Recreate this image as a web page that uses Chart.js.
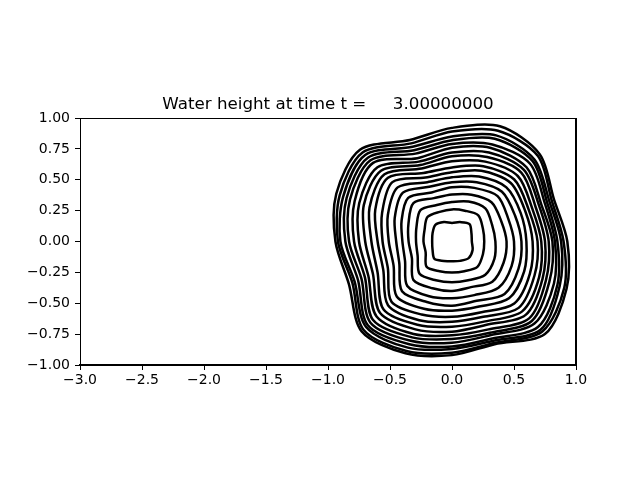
<!DOCTYPE html>
<html><head><meta charset="utf-8">
<script src="https://cdn.jsdelivr.net/npm/chart.js@4/dist/chart.umd.min.js"></script>
<style>html,body{margin:0;padding:0;background:#fff}</style>
</head><body>
<canvas id="c" width="640" height="480"></canvas>
<script>
const titleText = 'Water height at time t =     3.00000000';
const xTickValues = [-3, -2.5, -2, -1.5, -1, -0.5, 0, 0.5, 1];
const xTickLabels = ['\u22123.0','\u22122.5','\u22122.0','\u22121.5','\u22121.0','\u22120.5','0.0','0.5','1.0'];
const yTickValues = [-1, -0.75, -0.5, -0.25, 0, 0.25, 0.5, 0.75, 1];
const yTickLabels = ['\u22121.00','\u22120.75','\u22120.50','\u22120.25','0.00','0.25','0.50','0.75','1.00'];

// contour centre (data units) and ray directions (degrees)
const centerX = 0.0, centerY = 0.0;
const rayAngles = [0, 22.5, 45, 67.5, 90, 112.5, 135, 157.5, 180, 202.5, 225, 247.5, 270, 292.5, 315, 337.5];
// radius (data units) at which each of the 18 contour levels crosses a ray, innermost -> outermost
const ray000 = [.16,.26,.35,.44,.50,.56,.60,.65,.69,.72,.75,.78,.81,.83,.85,.88,.90,.93];
const ray022 = [.17,.27,.35,.43,.49,.55,.60,.64,.67,.70,.73,.76,.78,.81,.83,.85,.87,.89];
const ray045 = [.20,.30,.38,.45,.52,.57,.62,.67,.71,.75,.79,.82,.85,.89,.92,.94,.98,1.00];
const ray067 = [.17,.27,.35,.41,.47,.52,.57,.62,.66,.70,.74,.78,.82,.85,.90,.93,.97,1.01];
const ray090 = [.15,.26,.32,.38,.44,.48,.52,.56,.60,.65,.69,.72,.76,.79,.82,.85,.89,.92];
const ray112 = [.17,.26,.32,.38,.43,.48,.52,.56,.60,.64,.67,.70,.73,.77,.80,.83,.86,.89];
const ray135 = [.19,.28,.36,.44,.50,.56,.62,.68,.73,.77,.81,.85,.90,.93,.96,.99,1.02,1.05];
const ray157 = [.17,.24,.31,.38,.44,.50,.56,.61,.67,.72,.77,.81,.85,.89,.92,.95,.98,1.01];
const ray180 = [.16,.23,.29,.35,.40,.45,.51,.56,.60,.65,.70,.75,.79,.83,.86,.90,.92,.94];
const ray202 = [.17,.23,.30,.35,.41,.46,.51,.56,.60,.65,.69,.73,.76,.79,.82,.85,.87,.90];
const ray225 = [.20,.29,.37,.44,.51,.57,.63,.69,.73,.78,.82,.86,.90,.93,.96,.98,1.01,1.03];
const ray247 = [.17,.26,.34,.41,.48,.53,.59,.64,.69,.73,.77,.81,.84,.87,.90,.93,.96,.98];
const ray270 = [.16,.25,.33,.40,.46,.52,.56,.61,.65,.69,.73,.76,.79,.82,.85,.87,.90,.92];
const ray292 = [.17,.26,.34,.40,.47,.52,.57,.62,.66,.70,.73,.77,.80,.82,.85,.87,.89,.90];
const ray315 = [.19,.29,.38,.46,.53,.60,.65,.71,.76,.80,.84,.88,.91,.94,.98,1.01,1.03,1.06];
const ray337 = [.18,.27,.37,.45,.52,.58,.63,.68,.72,.76,.79,.82,.85,.89,.92,.94,.98,1.00];

const rays = [ray000, ray022, ray045, ray067, ray090, ray112, ray135, ray157,
              ray180, ray202, ray225, ray247, ray270, ray292, ray315, ray337];

const datasets = [];
const nLevels = ray000.length;
const nRays = rays.length;
for (let k = 0; k < nLevels; k++) {
  const pts = rays.map((r, i) => {
    const a = rayAngles[i] * Math.PI / 180;
    return { x: centerX + r[k] * Math.cos(a), y: centerY + r[k] * Math.sin(a) };
  });
  // wrap so that every visible segment has proper neighbours for the spline
  const data = [pts[nRays - 1], ...pts, pts[0], pts[1]];
  datasets.push({
    data,
    showLine: true,
    borderColor: '#000',
    borderWidth: 2.5,
    pointRadius: 0,
    pointHoverRadius: 0,
    tension: 0.3,
    fill: false,
    segment: {
      borderColor: ctx => (ctx.p0DataIndex === 0 || ctx.p0DataIndex === nRays + 1) ? 'rgba(0,0,0,0)' : '#000'
    }
  });
}

const frameAndTitle = {
  id: 'frameAndTitle',
  afterDraw(chart) {
    const { ctx, chartArea: a } = chart;
    ctx.save();
    ctx.strokeStyle = '#000';
    ctx.lineWidth = 1;
    ctx.beginPath();
    ctx.moveTo(a.left, a.top + 0.5); ctx.lineTo(a.right, a.top + 0.5);
    ctx.stroke();
    ctx.lineWidth = 2;
    ctx.beginPath();
    ctx.moveTo(a.right, a.top); ctx.lineTo(a.right, a.bottom + 1);
    ctx.stroke();
    ctx.fillStyle = '#000';
    ctx.font = '16.7px "DejaVu Sans"';
    ctx.textAlign = 'center';
    ctx.textBaseline = 'alphabetic';
    ctx.fillText(titleText, (a.left + a.right) / 2, a.top - 9);
    ctx.restore();
  }
};

const tickFont = { family: 'DejaVu Sans', size: 14 };
new Chart(document.getElementById('c'), {
  type: 'scatter',
  data: { datasets },
  plugins: [frameAndTitle],
  options: {
    responsive: false,
    animation: false,
    devicePixelRatio: 1,
    layout: { padding: { top: 118, right: 64, left: 0, bottom: 0 } },
    plugins: {
      legend: { display: false },
      tooltip: { enabled: false },
      title: { display: false }
    },
    scales: {
      x: {
        type: 'linear', min: -3, max: 1,
        afterBuildTicks: s => { s.ticks = xTickValues.map(v => ({ value: v })); },
        afterFit: s => { s.height = 115; s.paddingLeft = 0; s.paddingRight = 0; },
        ticks: { callback: (v, i) => xTickLabels[i], font: tickFont, color: '#000', padding: 2, maxRotation: 0, autoSkip: false },
        grid: { display: true, drawOnChartArea: false, drawTicks: true, tickLength: 5, color: '#000', lineWidth: 1 },
        border: { display: true, color: '#000', width: 2 }
      },
      y: {
        type: 'linear', min: -1, max: 1,
        afterBuildTicks: s => { s.ticks = yTickValues.map(v => ({ value: v })); },
        afterFit: s => { s.width = 80; s.paddingTop = 0; s.paddingBottom = 0; },
        ticks: { callback: (v, i) => yTickLabels[i], font: tickFont, color: '#000', padding: 5, autoSkip: false },
        grid: { display: true, drawOnChartArea: false, drawTicks: true, tickLength: 5, color: '#000', lineWidth: 1 },
        border: { display: true, color: '#000', width: 1 }
      }
    }
  }
});
</script>
</body></html>
